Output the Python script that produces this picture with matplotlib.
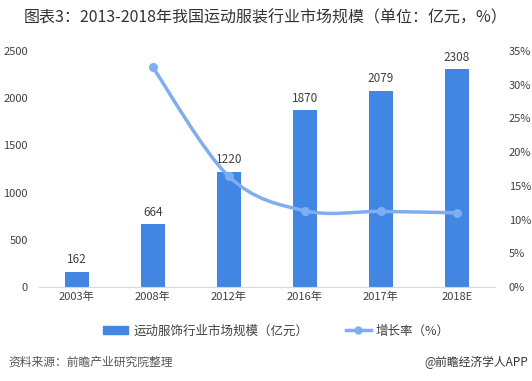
import numpy as np
import matplotlib.pyplot as plt
from matplotlib.path import Path
from matplotlib.patches import PathPatch
from matplotlib.lines import Line2D
from matplotlib.patches import Patch

plt.rcParams['font.family'] = ['Noto Sans CJK SC', 'DejaVu Sans']

# data
years = ["2003年", "2008年", "2012年", "2016年", "2017年", "2018E"]
market_size = [162, 664, 1220, 1870, 2079, 2308]
growth_years = ["2008年", "2012年", "2016年", "2017年", "2018E"]
growth_rate = [32.6, 16.4, 11.3, 11.2, 11.0]

bar_color = "#4286E3"
line_color = "#7FAEF0"
text_color = "#404040"

fig = plt.figure(figsize=(5.32, 3.81), dpi=100)
ax = fig.add_axes([0.073, 0.247, 0.857, 0.619])
ax2 = ax.twinx()

x = np.arange(len(years))
bars = ax.bar(x, market_size, width=0.32, color=bar_color, zorder=2)
for xi, v in zip(x, market_size):
    ax.text(xi, v + 60, str(v), ha="center", va="bottom", fontsize=8.5, color=text_color)

ax.set_ylim(0, 2500)
ax.set_yticks(range(0, 2501, 500))
ax.set_xlim(-0.5, len(years) - 0.5)
ax.set_xticks(x)
ax.set_xticklabels(years)
ax.tick_params(axis="both", length=0, labelsize=8, colors=text_color)
ax.tick_params(axis="y", pad=8)
for s in ["top", "right", "left"]:
    ax.spines[s].set_visible(False)
ax.spines["bottom"].set_color("#D9D9D9")

# smoothed growth line (Catmull-Rom as cubic bezier, drawn in data coords)
gx = [years.index(g) for g in growth_years]
pts = np.column_stack([gx, growth_rate]).astype(float)
ext = np.vstack([pts[0], pts, pts[-1]])
verts = [tuple(pts[0])]
codes = [Path.MOVETO]
for i in range(1, len(ext) - 2):
    p0, p1, p2, p3 = ext[i - 1], ext[i], ext[i + 1], ext[i + 2]
    c1 = p1 + (p2 - p0) / 6
    c2 = p2 - (p3 - p1) / 6
    verts += [tuple(c1), tuple(c2), tuple(p2)]
    codes += [Path.CURVE4] * 3
ax2.add_patch(PathPatch(Path(verts, codes), facecolor="none", edgecolor=line_color,
                        lw=2.5, zorder=3, capstyle="round"))
ax2.plot(gx, growth_rate, ls="none", marker="o", ms=5.5, color=line_color, zorder=4)

ax2.set_ylim(0, 35)
ax2.set_yticks(range(0, 36, 5))
ax2.set_yticklabels([f"{t}%" for t in range(0, 36, 5)])
ax2.tick_params(axis="y", length=0, labelsize=8, colors=text_color, pad=10)
for s in ["top", "right", "left", "bottom"]:
    ax2.spines[s].set_visible(False)

# legend
handles = [Patch(color=bar_color, label="运动服饰行业市场规模（亿元）"),
           Line2D([0], [0], color=line_color, lw=2.5, marker="o", ms=5, label="增长率（%）")]
fig.legend(handles=handles, loc="center", bbox_to_anchor=(0.52, 0.131), ncol=2,
           frameon=False, fontsize=9, handlelength=2.0, handleheight=0.6,
           handletextpad=0.4, columnspacing=3.0, labelcolor=text_color)

fig.text(0.5, 0.953, "图表3：2013-2018年我国运动服装行业市场规模（单位：亿元，%）",
         ha="center", va="center", fontsize=11.5, color="#333333")
fig.text(0.015, 0.05, "资料来源：前瞻产业研究院整理", ha="left", va="center",
         fontsize=8.5, color="#555555", style="italic")
fig.text(0.993, 0.05, "@前瞻经济学人APP", ha="right", va="center",
         fontsize=8.5, color="#333333")

fig.savefig("out.png", dpi=100)
